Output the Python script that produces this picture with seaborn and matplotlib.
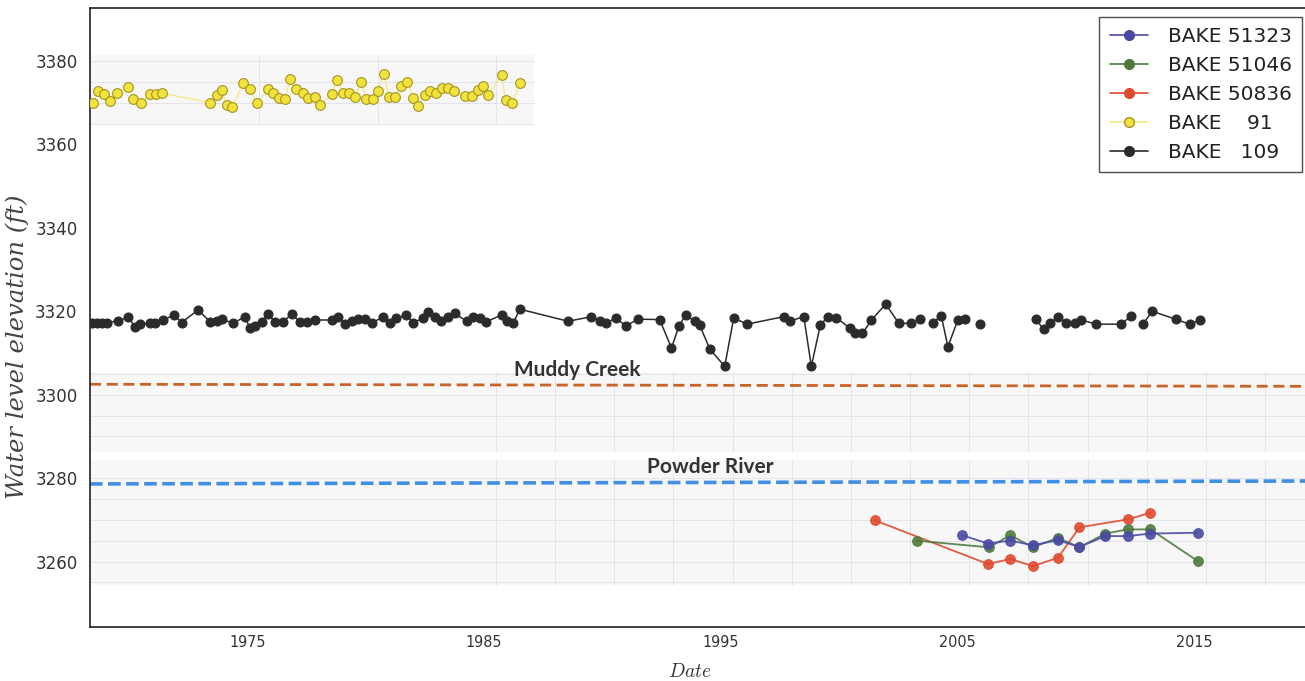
import numpy as np
import pandas as pd
import matplotlib
matplotlib.use("Agg")
import matplotlib.pyplot as plt
import seaborn as sns
from matplotlib.lines import Line2D

# ---------------- data ----------------
bake91_year = [1968.49, 1968.70, 1968.94, 1969.19, 1969.48, 1969.97, 1970.18, 1970.49, 1970.88, 1971.14,
               1971.38, 1973.42, 1973.70, 1973.91, 1974.12, 1974.37, 1974.82, 1975.11, 1975.39, 1975.88,
               1976.09, 1976.34, 1976.58, 1976.82, 1977.05, 1977.33, 1977.57, 1977.85, 1978.06, 1978.56,
               1978.77, 1979.05, 1979.30, 1979.54, 1979.82, 1980.01, 1980.29, 1980.52, 1980.77, 1980.99,
               1981.23, 1981.48, 1981.75, 1982.00, 1982.21, 1982.50, 1982.71, 1982.96, 1983.24, 1983.48,
               1983.73, 1984.19, 1984.47, 1984.75, 1984.96, 1985.17, 1985.74, 1985.92, 1986.20, 1986.51]
bake91_level = [3370.0, 3372.9, 3372.0, 3370.4, 3372.3, 3373.7, 3370.8, 3369.9, 3372.0, 3372.0,
                3372.3, 3370.0, 3371.8, 3373.0, 3369.4, 3369.0, 3374.7, 3373.2, 3370.0, 3373.2,
                3372.3, 3371.2, 3371.0, 3375.6, 3373.2, 3372.4, 3371.2, 3371.4, 3369.4, 3372.0,
                3375.4, 3372.3, 3372.4, 3371.4, 3375.0, 3370.8, 3370.8, 3372.9, 3376.8, 3371.4,
                3371.4, 3374.0, 3375.0, 3371.1, 3369.3, 3371.8, 3372.8, 3372.4, 3373.5, 3373.6,
                3372.9, 3371.6, 3371.6, 3373.0, 3374.0, 3371.8, 3376.6, 3370.6, 3370.0, 3374.7]

bake109_year = [1968.42, 1968.63, 1968.84, 1969.05, 1969.52, 1969.97, 1970.25, 1970.46, 1970.88, 1971.09,
                1971.44, 1971.91, 1972.22, 1972.92, 1973.42, 1973.70, 1973.91, 1974.40, 1974.89, 1975.11,
                1975.32, 1975.60, 1975.88, 1976.16, 1976.51, 1976.87, 1977.22, 1977.50, 1977.85, 1978.56,
                1978.84, 1979.12, 1979.40, 1979.68, 1979.96, 1980.25, 1980.74, 1981.02, 1981.30, 1981.72,
                1982.00, 1982.43, 1982.64, 1982.92, 1983.20, 1983.48, 1983.76, 1984.26, 1984.54, 1984.82,
                1985.10, 1985.74, 1985.95, 1986.23, 1986.51, 1988.55, 1989.54, 1989.89, 1990.17, 1990.56,
                1990.99, 1991.51, 1992.42, 1992.92, 1993.24, 1993.52, 1993.90, 1994.11, 1994.54, 1995.17,
                1995.55, 1996.11, 1997.66, 1997.91, 1998.51, 1998.83, 1999.21, 1999.53, 1999.89, 2000.45,
                2000.66, 2000.99, 2001.37, 2001.97, 2002.53, 2003.05, 2003.44,
                2003.97, 2004.32, 2004.60, 2005.02, 2005.31,
                2005.94,
                2008.31, 2008.64, 2008.93, 2009.25, 2009.60, 2009.95, 2010.24, 2010.87, 2011.92, 2012.35,
                2012.84, 2013.23, 2014.22, 2014.81, 2015.26]
bake109_level = [3317.1, 3317.3, 3317.3, 3317.2, 3317.7, 3318.5, 3316.3, 3316.9, 3317.1, 3317.2,
                 3317.9, 3319.1, 3317.3, 3320.3, 3317.5, 3317.6, 3318.1, 3317.1, 3318.7, 3315.9,
                 3316.5, 3317.5, 3319.3, 3317.5, 3317.5, 3319.3, 3317.5, 3317.5, 3317.9, 3317.9,
                 3318.7, 3316.9, 3317.6, 3318.1, 3318.1, 3317.1, 3318.7, 3317.1, 3318.3, 3319.1,
                 3317.3, 3318.3, 3319.9, 3318.7, 3317.6, 3318.7, 3319.5, 3317.6, 3318.7, 3318.3,
                 3317.5, 3319.1, 3317.6, 3317.1, 3320.5, 3317.6, 3318.7, 3317.6, 3317.1, 3318.4,
                 3316.5, 3318.1, 3318.0, 3311.2, 3316.5, 3319.1, 3317.6, 3316.7, 3310.9, 3306.8,
                 3318.4, 3316.9, 3318.7, 3317.6, 3318.7, 3306.8, 3316.7, 3318.7, 3318.4, 3316.0,
                 3314.7, 3314.7, 3317.9, 3321.7, 3317.1, 3317.1, 3318.1,
                 3317.3, 3318.9, 3311.5, 3317.9, 3318.1,
                 3316.9,
                 3318.1, 3315.7, 3317.1, 3318.7, 3317.3, 3317.3, 3317.9, 3316.9, 3316.9, 3318.9,
                 3316.9, 3320.0, 3318.1, 3316.9, 3317.9]
# gaps in the record come after these dates
bake109_gap_after = [2003.44, 2005.31, 2005.94, 2012.35]

bake50836_year = [2001.50, 2006.29, 2007.24, 2008.19, 2009.25, 2010.16, 2012.20, 2013.16]
bake50836_level = [3269.9, 3259.4, 3260.6, 3258.9, 3260.9, 3268.2, 3270.1, 3271.7]

bake51046_year = [2003.29, 2006.33, 2007.24, 2008.19, 2009.25, 2010.16, 2011.25, 2012.20, 2013.16, 2015.16]
bake51046_level = [3265.0, 3263.4, 3266.3, 3263.4, 3265.7, 3263.4, 3266.7, 3267.7, 3267.7, 3260.1]

bake51323_year = [2005.21, 2006.29, 2007.24, 2008.19, 2009.25, 2010.16, 2011.25, 2012.20, 2013.16, 2015.16]
bake51323_level = [3266.3, 3264.3, 3265.0, 3263.9, 3265.1, 3263.5, 3266.1, 3266.1, 3266.7, 3266.9]

river_names = ["Muddy Creek", "Powder River"]
muddy_year = [1968.35, 2019.9]
muddy_level = [3302.5, 3302.0]
powder_year = [1968.35, 2019.9]
powder_level = [3278.6, 3279.3]

legend_labels = ["BAKE 51323", "BAKE 51046", "BAKE 50836", "BAKE    91", "BAKE   109"]
x_ticks = [1975, 1985, 1995, 2005, 2015]
y_ticks = [3260, 3280, 3300, 3320, 3340, 3360, 3380]

# ---------------- styling ----------------
sns.set_style("white")
plt.rcParams["font.family"] = ["DejaVu Sans"]
plt.rcParams["mathtext.fontset"] = "cm"

c_blue = "#4a4aa6"
c_green = "#4d7a3b"
c_red = "#e04a2e"
c_yel = "#f2e23c"
c_yel_edge = "#a39322"
c_yel_line = "#f6ea86"
c_blk = "#2b2b2b"

fig = plt.figure(figsize=(13.05, 6.81), dpi=100)
ax = fig.add_axes([90 / 1305, 1 - 627 / 681, 1220 / 1305, 619 / 681])
ax.set_xlim(1968.35, 2019.9)
ax.set_ylim(3244.3, 3392.7)

# light background panels (as in the pasted-up original)
band_col = "#f7f7f7"
grid_col = "#e3e3ee"
ax.fill_between([1968.35, 1987.1], 3364.7, 3381.4, color=band_col, zorder=0, lw=0)
ax.axhspan(3286.2, 3305.4, color=band_col, zorder=0, lw=0)
ax.axhspan(3254.3, 3284.3, color=band_col, zorder=0, lw=0)
for yy in [3365, 3370, 3375, 3380]:
    ax.hlines(yy, 1968.35, 1987.1, color=grid_col, lw=0.7, zorder=0.5)
for xx in [1975.5, 1980.5, 1985.5]:
    ax.vlines(xx, 3364.7, 3381.4, color=grid_col, lw=0.7, zorder=0.5)
for yy in [3290, 3295, 3300, 3305]:
    ax.hlines(yy, 1968.35, 2019.9, color=grid_col, lw=0.7, zorder=0.5)
for yy in [3255, 3260, 3265, 3270, 3275, 3280]:
    ax.hlines(yy, 1968.35, 2019.9, color=grid_col, lw=0.7, zorder=0.5)
for xx in np.arange(1985.5, 2019, 2.5):
    ax.vlines(xx, 3286.2, 3305.4, color=grid_col, lw=0.7, zorder=0.5)
    ax.vlines(xx, 3254.3, 3284.3, color=grid_col, lw=0.7, zorder=0.5)

# river reference levels
sns.lineplot(x=muddy_year, y=muddy_level, ax=ax, color="#c8642a", lw=2.0,
             legend=False, zorder=2)
ax.lines[-1].set_dashes((4, 2))
sns.lineplot(x=powder_year, y=powder_level, ax=ax, color="#3f8fe3", lw=2.6,
             legend=False, zorder=2)
ax.lines[-1].set_dashes((3.5, 1.5))
ax.text(1988.92, 3305.9, river_names[0], ha="center", va="center", fontsize=15,
        fontweight="bold", color="#333333", family=["Lato", "DejaVu Sans"], zorder=3)
ax.text(1994.54, 3282.6, river_names[1], ha="center", va="center", fontsize=15,
        fontweight="bold", color="#333333", family=["Lato", "DejaVu Sans"], zorder=3)

# BAKE 91
df91 = pd.DataFrame({"year": bake91_year, "level": bake91_level})
sns.lineplot(data=df91, x="year", y="level", ax=ax, color=c_yel_line, lw=1.0,
             marker="o", markersize=7, markerfacecolor=c_yel, markeredgecolor=c_yel_edge,
             markeredgewidth=0.8, legend=False, sort=False, zorder=4)

# BAKE 109 (with gaps)
df109 = pd.DataFrame({"year": bake109_year, "level": bake109_level})
df109["segment"] = np.searchsorted(bake109_gap_after, df109["year"].values, side="left")
sns.lineplot(data=df109, x="year", y="level", units="segment", estimator=None, ax=ax,
             color=c_blk, lw=1.1, marker="o", markersize=6.5, markerfacecolor=c_blk,
             markeredgecolor=c_blk, legend=False, sort=False, zorder=4)

# recent wells
for yrs, lev, col in [(bake50836_year, bake50836_level, c_red),
                      (bake51046_year, bake51046_level, c_green),
                      (bake51323_year, bake51323_level, c_blue)]:
    sns.lineplot(x=yrs, y=lev, ax=ax, color=col, lw=1.3, marker="o", markersize=7,
                 markerfacecolor=col, markeredgecolor=col, legend=False, sort=False,
                 zorder=4, alpha=0.9)

# legend
styles = [(c_blue, c_blue, c_blue), (c_green, c_green, c_green), (c_red, c_red, c_red),
          (c_yel_line, c_yel, c_yel_edge), (c_blk, c_blk, c_blk)]
handles = [Line2D([0], [0], color=lc, lw=1.2, marker="o", markersize=7,
                  markerfacecolor=fc, markeredgecolor=ec) for lc, fc, ec in styles]
leg = ax.legend(handles, legend_labels, loc="upper right",
                bbox_to_anchor=(1302 / 1305, 1 - 17 / 681), bbox_transform=fig.transFigure,
                borderaxespad=0, fontsize=14.5, frameon=True, fancybox=False,
                handlelength=1.9, labelspacing=0.5, borderpad=0.5, handletextpad=1.0)
leg.get_frame().set_edgecolor("#222222")
leg.get_frame().set_linewidth(1.0)
for t in leg.get_texts():
    t.set_color("#222222")

# axes styling
for s in ["left", "bottom", "top", "right"]:
    ax.spines[s].set_color("#222222")
    ax.spines[s].set_linewidth(1.2)
ax.set_xticks(x_ticks)
ax.set_xticklabels([str(v) for v in x_ticks], fontsize=11.5, color="#333333",
                   fontstretch="condensed")
ax.set_yticks(y_ticks)
ax.set_yticklabels([str(v) for v in y_ticks], fontsize=12, color="#333333")
ax.set_xticks(np.arange(1970, 2020, 2.5), minor=True)
ax.set_yticks(np.arange(3250, 3392, 5), minor=True)
ax.tick_params(axis="both", which="major", direction="in", length=5, width=1, color="#444444")
ax.tick_params(axis="both", which="minor", direction="in", length=2.5, width=0.8, color="#666666")
ax.tick_params(axis="y", pad=9)
ax.tick_params(axis="x", pad=6)

ax.set_ylabel("Water level elevation (ft)", fontsize=17.5, color="#444444",
              family="DejaVu Serif", style="italic")
ax.yaxis.set_label_coords(-0.05, 0.452)
ax.set_xlabel(r"$Date$", fontsize=14, color="#333333")
ax.xaxis.set_label_coords(0.492, -0.057)

fig.savefig("out.png", dpi=100, facecolor="white")
